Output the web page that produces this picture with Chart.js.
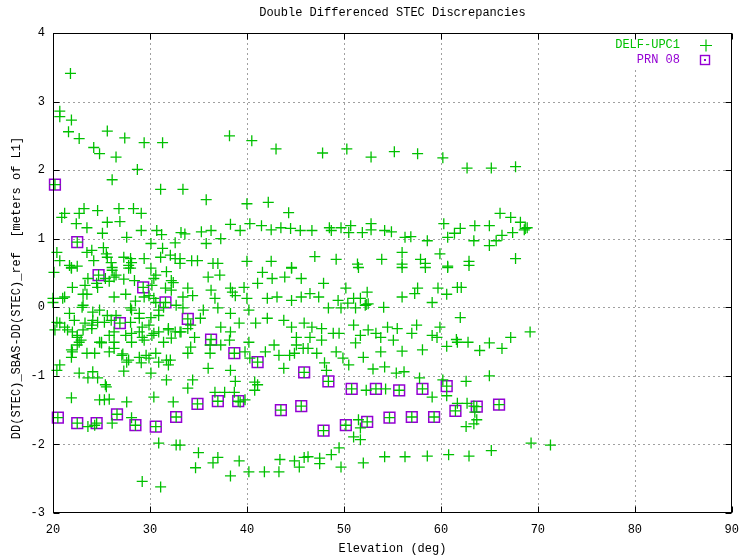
<!DOCTYPE html>
<html>
<head>
<meta charset="utf-8">
<script src="https://cdn.jsdelivr.net/npm/chart.js@4/dist/chart.umd.min.js"></script>
<style>
html,body{margin:0;padding:0;background:#fff;}
#wrap{width:749px;height:560px;position:relative;}
</style>
</head>
<body>
<div id="wrap"><canvas id="c" width="749" height="560"></canvas></div>
<script>
const chartTitle = "Double Differenced STEC Discrepancies";
const xAxisTitle = "Elevation (deg)";
const yAxisTitle = "DD(STEC)_SBAS-DD(STEC)_ref  [meters of L1]";
const seriesNames = ["DELF-UPC1", "PRN 08"];
const xTicks = [20, 30, 40, 50, 60, 70, 80, 90];
const yTicks = [-3, -2, -1, 0, 1, 2, 3, 4];

// PRN 08 points [elevation, DD value]
const prn08 = [
[20.2,1.79],[22.5,0.95],[24.7,0.47],[29.3,0.29],[31.6,0.07],[26.9,-0.23],[33.9,-0.17],[36.3,-0.47],
[38.7,-0.67],[41.1,-0.80],[45.9,-0.95],[48.4,-1.08],[50.8,-1.19],[53.3,-1.19],[55.7,-1.21],[58.1,-1.19],
[60.6,-1.15],[20.5,-1.61],[22.5,-1.69],[24.5,-1.69],[26.6,-1.56],[28.5,-1.72],[30.6,-1.74],[32.7,-1.60],
[34.9,-1.41],[37.0,-1.37],[39.1,-1.37],[43.5,-1.50],[45.6,-1.44],[47.9,-1.80],[50.2,-1.72],[52.4,-1.67],
[54.7,-1.61],[57.0,-1.60],[59.3,-1.60],[61.5,-1.51],[63.7,-1.45],[66.0,-1.42]
];

// DELF-UPC1 points (other than the PRN 08 ones) [elevation, DD value]
const delfUpc1 = [
[21.8,3.41],[20.7,2.86],[20.7,2.78],[21.9,2.73],[21.6,2.56],[22.7,2.46],[25.6,2.57],[27.4,2.47],[24.2,2.33],[24.8,2.24],
[26.5,2.19],[29.4,2.40],[31.3,2.40],[28.7,2.01],[26.1,1.86],[31.1,1.72],
[21.2,1.37],[20.9,1.31],[22.7,1.37],[23.2,1.44],[22.4,1.22],[23.5,1.16],[24.6,1.41],[25.6,1.24],[26.8,1.44],[26.9,1.25],
[28.3,1.44],[29.1,1.37],[25.1,1.08],[27.6,1.02],[29.1,1.12],[30.7,1.12],[31.2,1.06],
[20.4,0.80],[20.7,0.68],[23.5,0.80],[24.0,0.83],[24.2,0.68],[25.2,0.87],[25.5,0.78],[27.3,0.73],[28.0,0.71],[29.4,0.71],
[30.1,0.93],[31.3,0.86],[31.1,0.73],[32.1,0.76],[32.6,0.94],[21.9,0.58],[22.5,0.60],[26.1,0.58],[27.8,0.61],
[21.7,0.61],[25.6,0.73],[28.1,0.65],[32.6,0.71],[33.1,0.64],[28.0,0.57],[26.0,0.65],
[20.1,0.51],[21.9,0.57],[26.1,0.54],[27.8,0.57],[30.1,0.57],[31.7,0.52],
[23.6,0.42],[24.5,0.35],[22.0,0.29],[23.1,0.19],[23.5,0.19],[25.4,0.42],[26.3,0.44],[27.3,0.41],[28.4,0.39],[30.4,0.42],
[32.2,0.39],[32.2,0.25],[20.0,0.13],[21.0,0.13],[26.3,0.15],[27.5,0.19],[28.5,0.09],[29.4,0.15],[30.4,0.13],
[23.0,0.00],[24.1,-0.07],[25.6,-0.12],[28.0,-0.01],[28.9,-0.09],[30.1,-0.15],[30.9,-0.04],[31.4,0.00],
[20.7,-0.23],[21.2,-0.29],[22.2,-0.19],[23.3,-0.23],[24.0,-0.26],[24.6,-0.22],[26.0,-0.19],[28.0,-0.22],[29.2,-0.29],
[30.2,-0.41],[30.4,-0.38],[31.9,-0.33],[20.2,-0.33],[21.5,-0.33],[22.5,-0.44],[22.9,-0.48],[25.0,-0.51],[26.3,-0.36],
[28.1,-0.38],[29.2,-0.44],[30.9,-0.36],
[22.5,-0.55],[21.9,-0.62],[21.9,-0.73],[23.5,-0.67],[24.3,-0.67],[25.0,-0.52],[26.3,-0.60],[27.1,-0.70],[27.2,-0.68],
[27.6,-0.80],[29.1,-0.81],[30.9,-0.80],[32.1,-0.77],[31.9,-0.84],[29.6,-0.70],
[20.7,-0.84],[20.4,-0.92],[22.7,-0.96],[24.1,-0.94],[23.6,-1.03],[24.6,-1.03],[25.5,-1.16],[25.4,-1.13],[27.3,-0.93],
[30.1,-0.96],[31.7,-1.06],
[21.9,-1.32],[24.8,-1.35],[25.3,-1.35],[25.8,-1.34],[27.6,-1.38],[30.4,-1.31],[32.4,-1.38],[28.1,-1.61],[23.6,-1.74],
[24.3,-1.72],[26.1,-1.69],[30.9,-1.98],[32.7,-2.01],[29.2,-2.54],[31.1,-2.62],
[23.3,0.32],[24.6,0.29],[25.8,0.38],[26.5,0.47],[30.6,0.47],[30.2,0.32],[31.6,0.28],[32.4,0.36],[21.2,0.15],[20.0,0.07],
[23.1,0.03],[29.9,0.17],[30.6,0.07],[32.7,0.03],[21.7,-0.09],[24.8,-0.04],[25.3,-0.22],[26.5,-0.12],[28.1,-0.04],
[28.9,-0.16],[29.9,-0.26],[30.9,-0.12],[31.9,-0.31],[32.6,-0.36],[20.4,-0.22],[24.1,-0.19],[22.0,-0.36],[24.0,-0.31],
[23.1,-0.33],[22.5,-0.41],[22.7,-0.51],[24.8,-0.51],[25.8,-0.41],[26.3,-0.51],[27.5,-0.41],[28.1,-0.51],[28.9,-0.36],
[29.4,-0.48],[31.4,-0.51],[32.2,-0.45],[33.1,-0.36],[22.0,-0.65],[25.8,-0.65],[27.8,-0.77],[28.9,-0.73],[29.9,-0.74],
[30.6,-0.67],[31.7,-0.77],
[38.2,2.50],[40.5,2.43],[43.0,2.31],[33.4,1.72],[35.8,1.57],[40.0,1.51],[42.2,1.53],[44.3,1.38],[33.2,1.09],[33.6,1.07],
[35.3,1.10],[36.3,1.12],[35.8,0.93],[37.3,1.00],[38.3,1.21],[39.3,1.12],[40.3,1.22],[41.5,1.19],[42.5,1.13],[43.5,1.16],
[44.5,1.15],[45.5,1.12],[33.1,0.71],[34.3,0.68],[34.9,0.68],[36.5,0.64],[37.0,0.64],[40.0,0.67],[42.5,0.67],[44.6,0.58],
[47.8,2.25],[50.3,2.31],[52.8,2.19],[55.2,2.27],[57.6,2.24],[46.7,1.12],[48.5,1.16],[48.7,1.12],[49.7,1.16],[50.7,1.19],
[50.5,1.09],[51.9,1.09],[52.8,1.22],[52.8,1.13],[54.2,1.12],[54.9,1.10],[56.3,1.02],[56.9,1.03],[58.6,0.97],[47.0,0.74],
[49.2,0.70],[51.4,0.63],[53.9,0.70],[56.0,0.80],[56.0,0.63],[57.9,0.70],[58.4,0.64],
[60.2,2.18],[62.7,2.03],[65.2,2.03],[67.7,2.05],[60.3,1.22],[60.7,1.02],[61.4,1.08],[62.0,1.15],[63.5,1.19],[63.4,0.97],
[65.0,1.19],[65.0,0.90],[66.1,1.37],[67.2,1.31],[68.2,1.24],[67.4,1.09],[66.3,1.05],[65.7,0.97],[68.7,1.15],[68.9,1.16],
[68.6,1.13],[59.9,0.78],[60.7,0.60],[62.9,0.67],[67.7,0.71],
[36.0,0.44],[37.2,0.47],[41.6,0.51],[44.6,0.57],[42.6,0.42],[43.9,0.44],[45.6,0.42],[33.9,0.28],[34.4,0.17],[36.3,0.25],
[38.3,0.28],[38.5,0.22],[38.8,0.17],[39.7,0.29],[40.0,0.13],[41.1,0.35],[42.1,0.13],[43.1,0.15],[44.6,0.10],[45.6,0.15],
[33.4,0.15],[33.4,-0.01],[35.5,-0.04],[36.7,0.13],[37.0,-0.01],[38.3,-0.09],[39.2,-0.23],[40.2,-0.04],[40.9,-0.23],
[42.1,-0.16],[43.8,-0.19],[44.6,-0.29],[45.1,-0.44],[45.9,-0.23],[34.2,-0.26],[35.2,-0.16],[37.3,-0.29],[38.3,-0.36],
[33.2,-0.36],[33.9,-0.31],[34.6,-0.44],[34.2,-0.58],[33.9,-0.67],[36.2,-0.55],[36.2,-0.67],[37.3,-0.55],[38.2,-0.48],
[39.8,-0.65],[40.2,-0.51],[40.3,-0.74],[41.9,-0.65],[42.8,-0.55],[43.3,-0.70],[43.8,-0.89],[44.4,-0.70],[44.9,-0.67],
[45.1,-0.55],[45.8,-0.60],[36.0,-0.89],[38.3,-0.92],[38.8,-1.08],[40.8,-1.09],[40.8,-1.21],[41.1,-1.13],[34.4,-1.06],
[33.9,-1.18],[36.7,-1.24],[37.7,-1.24],[38.7,-1.24],[39.3,-1.38],[39.8,-1.35],
[33.1,-2.01],[35.0,-2.12],[34.7,-2.34],[37.0,-2.19],[36.5,-2.27],[39.2,-2.24],[38.3,-2.46],[40.2,-2.40],[41.8,-2.40],
[43.3,-2.40],[43.4,-2.22],[44.9,-2.24],[45.4,-2.33],[45.9,-2.19],
[51.5,0.58],[56.0,0.58],[58.4,0.58],[47.9,0.35],[50.2,0.28],[47.4,0.15],[46.5,0.20],[49.4,0.10],[51.0,0.13],[52.4,0.22],
[51.7,0.13],[52.3,0.04],[52.5,0.05],[52.2,0.03],[48.4,-0.01],[49.7,-0.01],[50.4,0.06],[51.2,-0.01],[54.1,0.00],[56.0,0.15],
[57.3,0.20],[57.6,0.28],[59.1,0.07],
[46.7,-0.29],[47.7,-0.31],[46.5,-0.44],[47.7,-0.48],[48.9,-0.38],[49.5,-0.38],[51.0,-0.26],[51.2,-0.52],[51.7,-0.41],
[52.5,-0.33],[53.3,-0.38],[53.8,-0.44],[54.5,-0.29],[55.1,-0.48],[55.5,-0.31],[57.0,-0.38],[57.5,-0.26],[59.1,-0.41],
[46.3,-0.60],[47.2,-0.67],[49.2,-0.65],[49.9,-0.74],[50.5,-0.84],[52.0,-0.73],[53.8,-0.65],[56.0,-0.64],[58.1,-0.62],
[48.0,-0.81],[48.2,-0.92],[53.0,-0.90],[54.2,-0.87],[55.4,-0.96],[56.2,-0.94],[57.8,-1.03],[52.3,-1.21],[54.3,-1.19],
[59.1,-1.31],
[51.5,-1.64],[51.7,-1.76],[51.0,-1.89],[51.7,-1.93],[49.5,-2.05],[48.7,-2.15],[47.5,-2.20],[47.5,-2.28],[46.3,-2.18],
[49.7,-2.33],[52.0,-2.27],[54.2,-2.18],[56.3,-2.18],[58.6,-2.17],
[60.7,0.58],[62.9,0.61],[59.7,0.28],[61.7,0.29],[62.1,0.29],[60.6,0.19],[62.0,-0.15],[59.9,-0.29],[59.6,-0.44],[60.6,-0.57],
[61.6,-0.47],[61.7,-0.51],[62.8,-0.51],[64.0,-0.63],[65.0,-0.52],[66.3,-0.60],[67.2,-0.44],[69.2,-0.36],[60.2,-1.06],
[62.6,-1.08],[65.0,-1.00],[60.6,-1.29],[61.7,-1.40],[62.7,-1.40],[63.4,-1.44],[63.5,-1.53],[63.7,-1.64],[62.6,-1.74],
[63.4,-1.70],[60.8,-2.15],[62.9,-2.17],[65.2,-2.09],[69.3,-1.98],[71.3,-2.01]
];

const GREEN = 'rgb(0,192,0)';
const PURPLE = 'rgb(148,0,211)';
const FONT = '"Liberation Mono", "DejaVu Sans Mono", monospace';

const toXY = arr => arr.map(p => ({x: p[0], y: p[1]}));

const framePlugin = {
  id: 'frame',
  beforeDatasetsDraw(chart) {
    const {ctx, chartArea: a, scales: {x, y}} = chart;
    ctx.save();
    ctx.strokeStyle = '#a0a0a0';
    ctx.lineWidth = 1;
    ctx.setLineDash([2, 3]);
    xTicks.forEach(v => {
      if (v === 20 || v === 90) return;
      const px = Math.round(x.getPixelForValue(v)) + 0.5;
      let y0 = a.top, y1 = a.bottom;
      ctx.beginPath();
      if (v === 80) { ctx.moveTo(px, 70); } else { ctx.moveTo(px, y0); }
      ctx.lineTo(px, y1);
      ctx.stroke();
    });
    yTicks.forEach(v => {
      if (v === -3 || v === 4) return;
      const py = Math.round(y.getPixelForValue(v)) + 0.5;
      ctx.beginPath();
      ctx.moveTo(a.left, py);
      ctx.lineTo(a.right, py);
      ctx.stroke();
    });
    ctx.restore();
  },
  afterDatasetsDraw(chart) {
    const {ctx, chartArea: a, scales: {x, y}} = chart;
    ctx.save();
    ctx.strokeStyle = '#000';
    ctx.lineWidth = 1;
    ctx.setLineDash([]);
    const L = Math.round(a.left) + 0.5, R = Math.round(a.right) - 0.5;
    const T = Math.round(a.top) + 0.5, B = Math.round(a.bottom) - 0.5;
    ctx.strokeRect(L, T, R - L, B - T);
    const tl = 6;
    ctx.beginPath();
    xTicks.forEach(v => {
      const px = Math.round(x.getPixelForValue(v)) + 0.5;
      ctx.moveTo(px, B); ctx.lineTo(px, B - tl);
      ctx.moveTo(px, T); ctx.lineTo(px, T + tl);
    });
    yTicks.forEach(v => {
      const py = Math.round(y.getPixelForValue(v)) + 0.5;
      ctx.moveTo(L, py); ctx.lineTo(L + tl, py);
      ctx.moveTo(R, py); ctx.lineTo(R - tl, py);
    });
    ctx.stroke();

    // titles
    ctx.fillStyle = '#000';
    ctx.font = '12px ' + FONT;
    ctx.textAlign = 'center';
    ctx.textBaseline = 'middle';
    const cx = (a.left + a.right) / 2;
    ctx.fillText(chartTitle, cx, 13);
    ctx.fillText(xAxisTitle, cx, 549);
    ctx.save();
    ctx.translate(17, 288);
    ctx.rotate(-Math.PI / 2);
    ctx.fillText(yAxisTitle, 0, 0);
    ctx.restore();

    // legend
    ctx.textAlign = 'right';
    ctx.fillStyle = GREEN;
    ctx.fillText(seriesNames[0], 680, 45);
    ctx.fillStyle = PURPLE;
    ctx.fillText(seriesNames[1], 680, 60);
    ctx.strokeStyle = GREEN;
    ctx.lineWidth = 1.2;
    ctx.beginPath();
    ctx.moveTo(700, 45.5); ctx.lineTo(712, 45.5);
    ctx.moveTo(706, 39.5); ctx.lineTo(706, 51.5);
    ctx.stroke();
    ctx.strokeStyle = PURPLE;
    ctx.lineWidth = 1.4;
    ctx.strokeRect(700.5, 55.5, 9, 9);
    ctx.fillStyle = PURPLE;
    ctx.fillRect(704, 59, 2, 2);
    ctx.restore();
  }
};

new Chart(document.getElementById('c'), {
  type: 'scatter',
  data: {
    datasets: [
      {
        label: seriesNames[0],
        data: toXY(delfUpc1.concat(prn08)),
        pointStyle: 'cross',
        pointRadius: 5.5,
        pointHoverRadius: 5.5,
        borderColor: GREEN,
        backgroundColor: GREEN,
        pointBorderWidth: 1.3,
        borderWidth: 1.3,
        clip: false
      },
      {
        label: seriesNames[1],
        data: toXY(prn08),
        pointStyle: 'rect',
        pointRadius: 7.6,
        pointHoverRadius: 7.6,
        borderColor: PURPLE,
        backgroundColor: 'rgba(0,0,0,0)',
        pointBorderWidth: 1.5,
        borderWidth: 1.5,
        clip: false
      }
    ]
  },
  options: {
    responsive: false,
    animation: false,
    events: [],
    layout: {padding: {top: 33, right: 9, left: 0, bottom: 0}},
    plugins: {legend: {display: false}, title: {display: false}, tooltip: {enabled: false}},
    scales: {
      x: {
        type: 'linear',
        min: 20, max: 90,
        afterFit: s => { s.height = 47; },
        afterBuildTicks: s => { s.ticks = xTicks.map(v => ({value: v})); },
        grid: {display: false, drawTicks: false},
        border: {display: false},
        ticks: {color: '#000', padding: 10, maxRotation: 0, autoSkip: false, font: {family: FONT, size: 12}}
      },
      y: {
        type: 'linear',
        min: -3, max: 4,
        afterFit: s => { s.width = 53; },
        afterBuildTicks: s => { s.ticks = yTicks.map(v => ({value: v})); },
        grid: {display: false, drawTicks: false},
        border: {display: false},
        ticks: {color: '#000', padding: 8, autoSkip: false, font: {family: FONT, size: 12}}
      }
    }
  },
  plugins: [framePlugin]
});
</script>
</body>
</html>
